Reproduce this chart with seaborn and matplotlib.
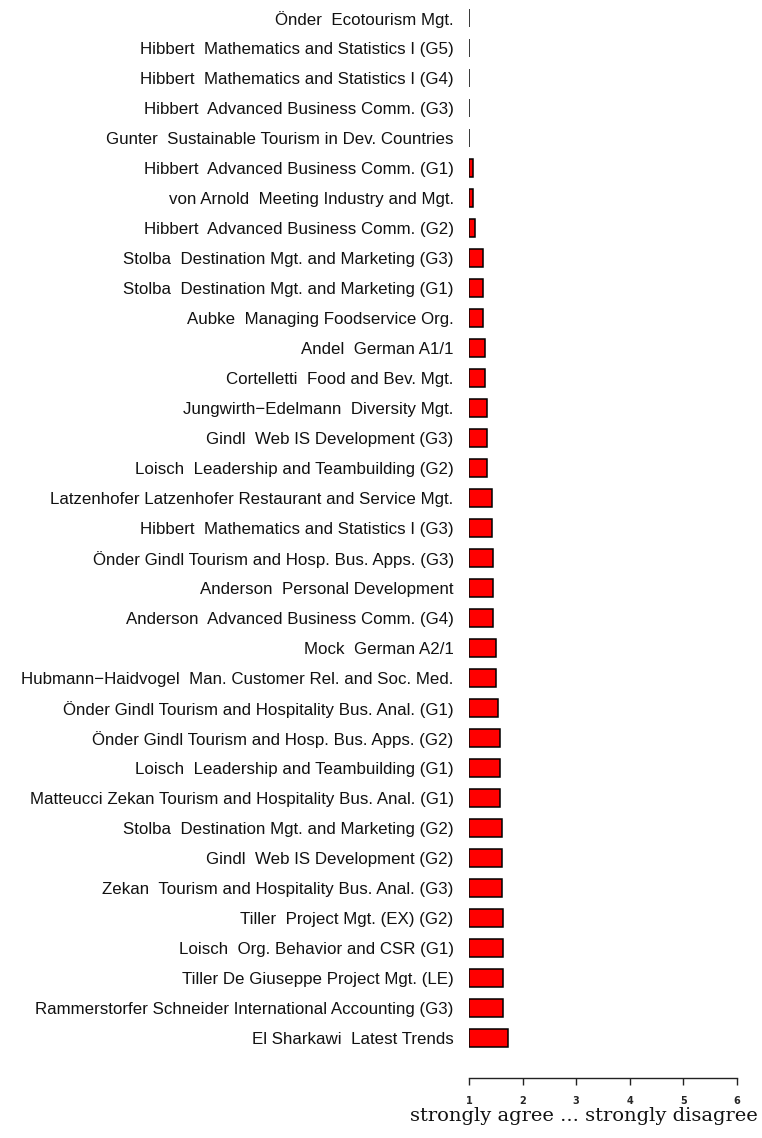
import numpy as np
import pandas as pd
import matplotlib
matplotlib.use("Agg")
import matplotlib.pyplot as plt
from matplotlib.ticker import FuncFormatter
import seaborn as sns

# Course labels (top to bottom) and mean scores (1 = strongly agree ... 6 = strongly disagree)
courses = [
    "Önder  Ecotourism Mgt.",
    "Hibbert  Mathematics and Statistics I (G5)",
    "Hibbert  Mathematics and Statistics I (G4)",
    "Hibbert  Advanced Business Comm. (G3)",
    "Gunter  Sustainable Tourism in Dev. Countries",
    "Hibbert  Advanced Business Comm. (G1)",
    "von Arnold  Meeting Industry and Mgt.",
    "Hibbert  Advanced Business Comm. (G2)",
    "Stolba  Destination Mgt. and Marketing (G3)",
    "Stolba  Destination Mgt. and Marketing (G1)",
    "Aubke  Managing Foodservice Org.",
    "Andel  German A1/1",
    "Cortelletti  Food and Bev. Mgt.",
    "Jungwirth\u2212Edelmann  Diversity Mgt.",
    "Gindl  Web IS Development (G3)",
    "Loisch  Leadership and Teambuilding (G2)",
    "Latzenhofer Latzenhofer Restaurant and Service Mgt.",
    "Hibbert  Mathematics and Statistics I (G3)",
    "Önder Gindl Tourism and Hosp. Bus. Apps. (G3)",
    "Anderson  Personal Development",
    "Anderson  Advanced Business Comm. (G4)",
    "Mock  German A2/1",
    "Hubmann\u2212Haidvogel  Man. Customer Rel. and Soc. Med.",
    "Önder Gindl Tourism and Hospitality Bus. Anal. (G1)",
    "Önder Gindl Tourism and Hosp. Bus. Apps. (G2)",
    "Loisch  Leadership and Teambuilding (G1)",
    "Matteucci Zekan Tourism and Hospitality Bus. Anal. (G1)",
    "Stolba  Destination Mgt. and Marketing (G2)",
    "Gindl  Web IS Development (G2)",
    "Zekan  Tourism and Hospitality Bus. Anal. (G3)",
    "Tiller  Project Mgt. (EX) (G2)",
    "Loisch  Org. Behavior and CSR (G1)",
    "Tiller De Giuseppe Project Mgt. (LE)",
    "Rammerstorfer Schneider International Accounting (G3)",
    "El Sharkawi  Latest Trends",
]
scores = [
    1.00, 1.00, 1.00, 1.00, 1.00, 1.07, 1.07, 1.11, 1.27, 1.27,
    1.27, 1.30, 1.30, 1.34, 1.34, 1.34, 1.42, 1.42, 1.45, 1.45,
    1.45, 1.50, 1.50, 1.54, 1.58, 1.58, 1.58, 1.61, 1.61, 1.61,
    1.64, 1.64, 1.64, 1.64, 1.72,
]
scale_ticks = [1, 2, 3, 4, 5, 6]

df = pd.DataFrame({"course": courses, "score": scores})
df["offset"] = df["score"] - 1  # bars start at 1

sns.set_style("white")
fig = plt.figure(figsize=(7.62, 11.38), dpi=100)
ax = fig.add_axes([469 / 762, 1 - 1078 / 1138, (737 - 469) / 762, (1078 - 3) / 1138])

sns.barplot(data=df, x="offset", y="course", orient="h", color="red",
            edgecolor="black", linewidth=1.1, width=0.6, saturation=1, ax=ax)

ax.set_xlim(0, 5)
ax.set_ylim(35.33, -0.5)
ax.set_xticks([t - 1 for t in scale_ticks])
ax.xaxis.set_major_formatter(FuncFormatter(lambda v, p: f"{int(round(v + 1))}"))
for s in ["top", "right", "left"]:
    ax.spines[s].set_visible(False)
ax.spines["bottom"].set_linewidth(1.0)
ax.spines["bottom"].set_color("#222222")
ax.tick_params(axis="x", bottom=True, direction="out", length=5, width=1.0,
               color="#222222", labelsize=7, pad=8)
ax.tick_params(axis="y", left=False, length=0, pad=11)
for lbl in ax.get_xticklabels():
    lbl.set_fontweight("bold")
for lbl in ax.get_yticklabels():
    lbl.set_fontfamily("Liberation Sans")
    lbl.set_fontsize(12.2)
    lbl.set_color("#111111")

ax.set_ylabel("")
ax.set_xlabel("strongly agree ... strongly disagree", family="DejaVu Serif",
              fontsize=14, color="#111111")
ax.xaxis.set_label_coords(0.427, -0.027)

fig.savefig("out.png", dpi=100)
